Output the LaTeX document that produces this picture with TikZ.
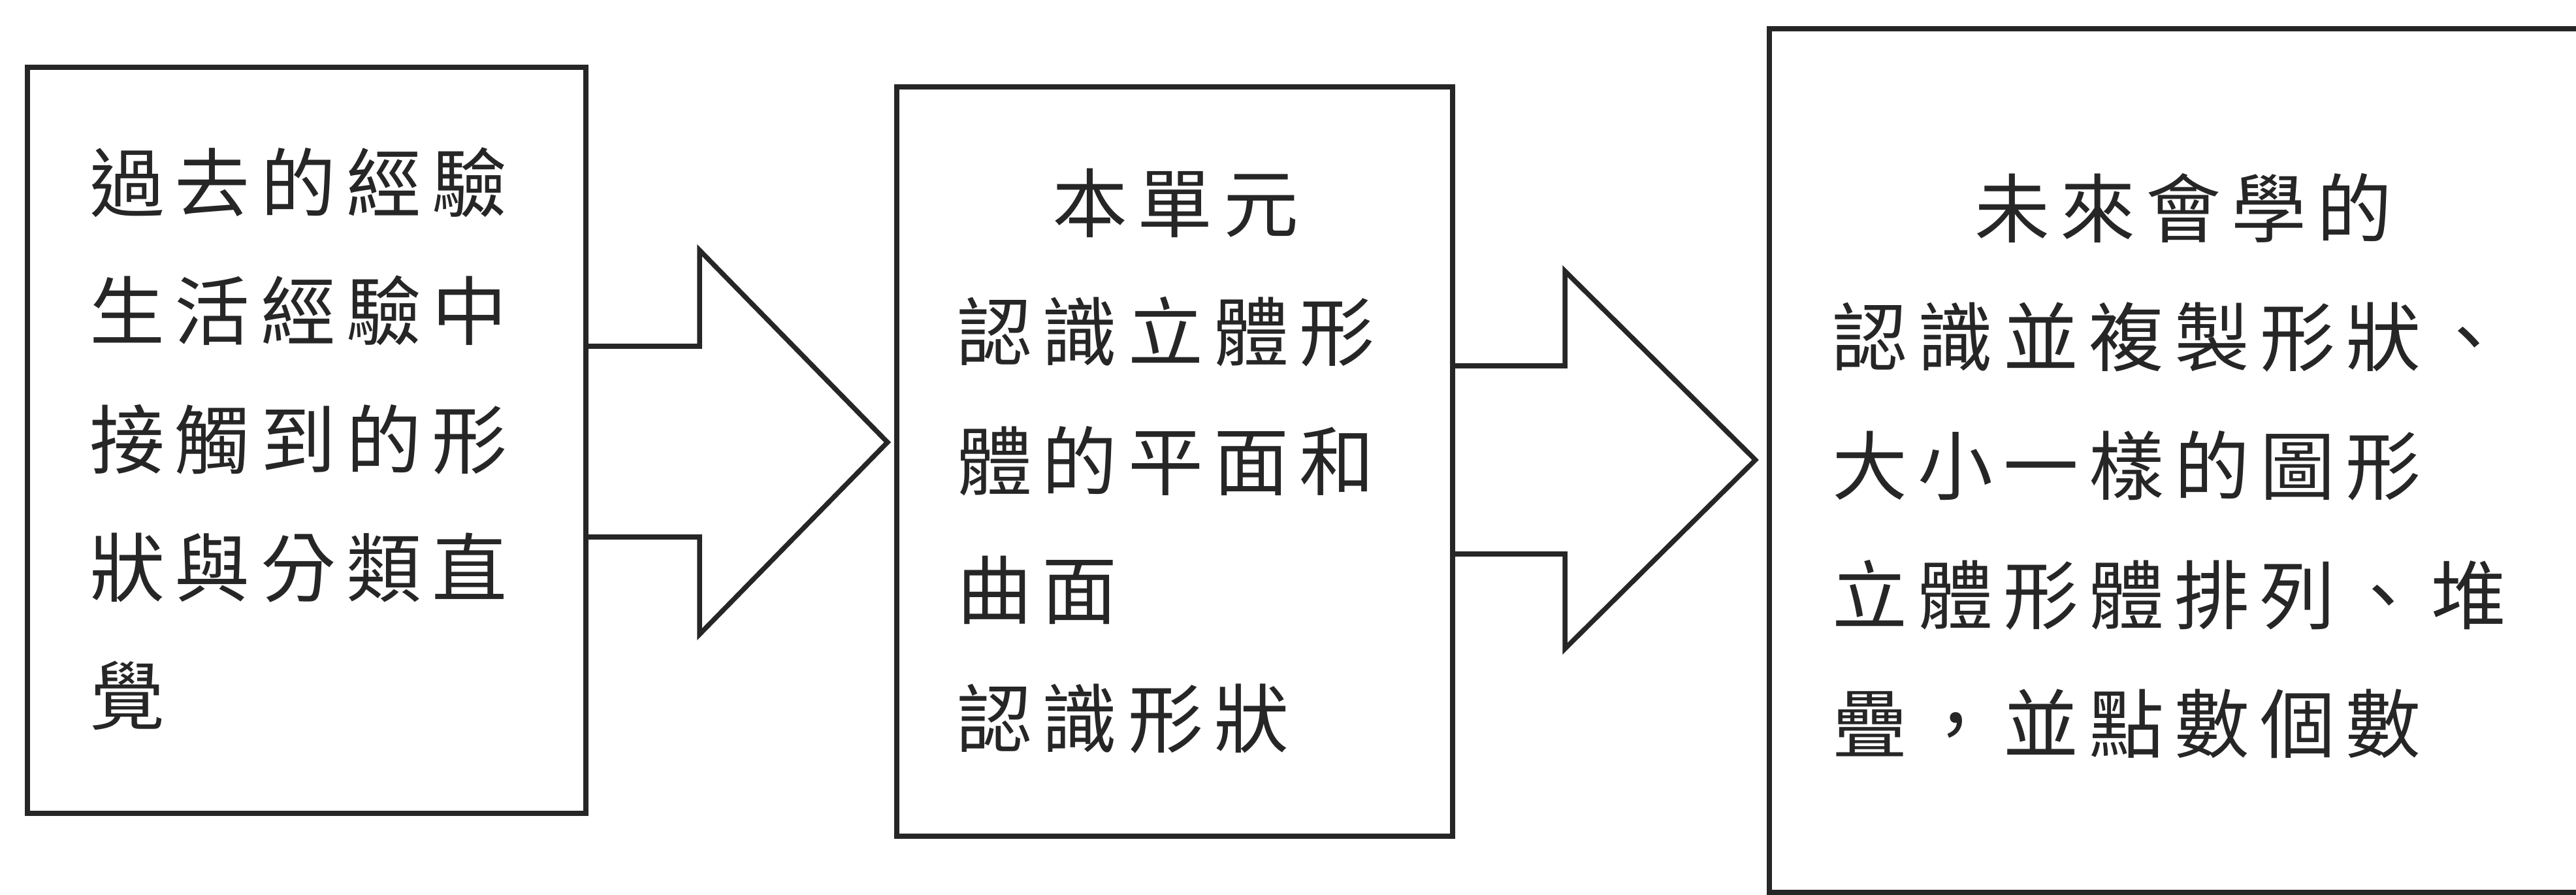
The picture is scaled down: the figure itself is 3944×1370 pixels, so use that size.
\documentclass[tikz,border=0pt]{standalone}
\usepackage{fontspec}
\usetikzlibrary{calc}
\newfontfamily\cjk{Noto Sans CJK TC}[LetterSpace=14]
\tikzset{
  boxnode/.style={draw=black!85, line width=0.08cm, rectangle, inner sep=0pt, outer sep=0pt},
  txt/.style={anchor=base west, inner sep=0pt, outer sep=0pt, text=black!85,
              font=\cjk\fontsize{32.7pt}{40pt}\selectfont},
  blockarrow/.style={draw=black!85, line width=0.075cm, line join=miter},
}
\begin{document}
\begin{tikzpicture}[x=0.01cm, y=-0.01cm]
\useasboundingbox (0,0) rectangle (3944,1370);
\clip (0,0) rectangle (3944,1370);
\fill[white] (0,0) rectangle (3944,1370);

% boxes
\node[boxnode, minimum width=8.55cm, minimum height=11.42cm] (b1) at (469.5,674) {};
\node[boxnode, minimum width=8.51cm, minimum height=11.47cm] (b2) at (1798.5,706.5) {};
\node[boxnode, minimum width=13.2cm, minimum height=13.22cm] (b3) at (3369,705) {};

% block arrows
\draw[blockarrow] ($(b1.east)+(0,-144)$) -- (1071,530) -- (1071,383)
   -- ($(b2.west)+(-14,-29.5)$) -- (1071,971) -- (1071,822) -- ($(b1.east)+(0,148)$);
\draw[blockarrow] ($(b2.east)+(0,-146.5)$) -- (2396,560) -- (2396,415)
   -- ($(b3.west)+(-21,-1)$) -- (2396,993) -- (2396,848) -- ($(b2.east)+(0,141.5)$);

% box 1 text
\node[txt] (t1a) at (137,324) {過去的經驗};
\node[txt] (t1b) at (137,520) {生活經驗中};
\node[txt] (t1c) at (137,716) {接觸到的形};
\node[txt] (t1d) at (137,912) {狀與分類直};
\node[txt] (t1e) at (137,1108) {覺};

% box 2 text
\node[txt] (t2a) at (1611,355) {本單元};
\node[txt] (t2b) at (1465,552) {認識立體形};
\node[txt] (t2c) at (1465,749) {體的平面和};
\node[txt] (t2d) at (1465,946) {曲面};
\node[txt] (t2e) at (1465,1143) {認識形狀};

% box 3 text
\node[txt] (t3a) at (3023,363) {未來會學的};
\node[txt] (t3b) at (2805,560) {認識並複製形狀、};
\node[txt] (t3c) at (2805,757) {大小一樣的圖形};
\node[txt] (t3d) at (2805,954) {立體形體排列、堆};
\node[txt] (t3e) at (2805,1151) {疊，並點數個數};
\end{tikzpicture}
\end{document}
